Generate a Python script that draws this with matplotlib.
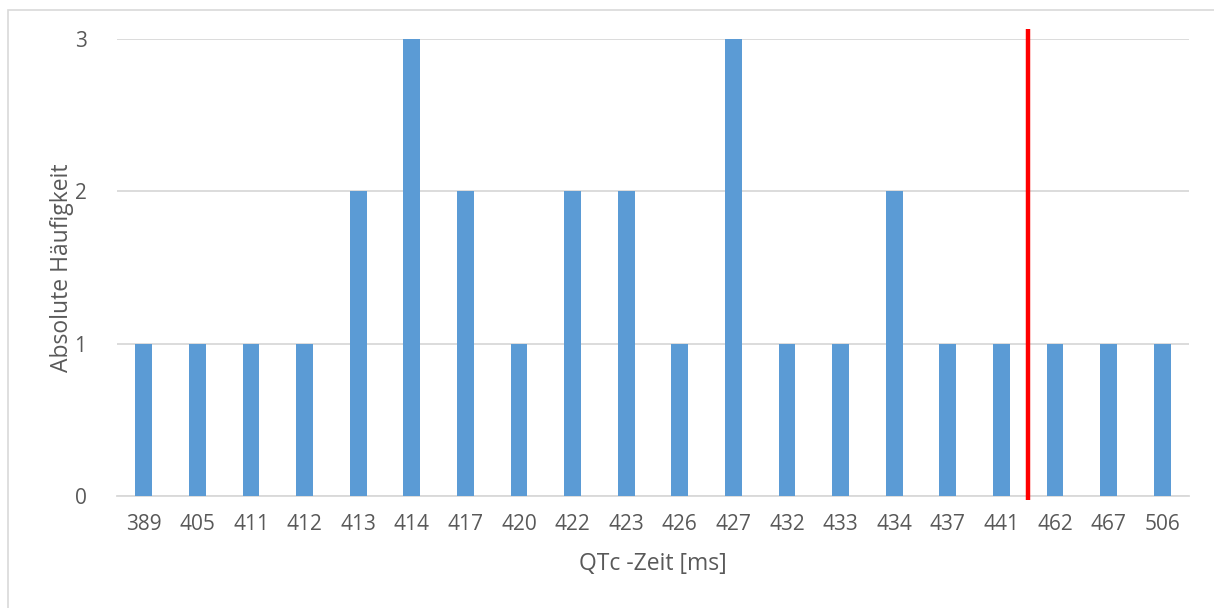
import matplotlib
matplotlib.use("Agg")
import matplotlib.pyplot as plt
from matplotlib.patches import Rectangle

# QTc times (ms) and how often each occurred
qtc_labels = ["389", "405", "411", "412", "413", "414", "417", "420", "422", "423",
              "426", "427", "432", "433", "434", "437", "441", "462", "467", "506"]
counts = [1, 1, 1, 1, 2, 3, 2, 1, 2, 2, 1, 3, 1, 1, 2, 1, 1, 1, 1, 1]
y_ticks = [0, 1, 2, 3]
# cut-off marker drawn between 441 and 462 ms
cutoff_pos = 16.5

text_color = "#595959"
bar_color = "#5B9BD5"
grid_color = "#D9D9D9"

plt.rcParams["font.family"] = ["Open Sans", "DejaVu Sans"]

fig = plt.figure(figsize=(12.14, 6.08), dpi=100)
fig.patches.append(Rectangle((8 / 1214, -0.1), 1.2, 1 - 10 / 608 + 0.1,
                             transform=fig.transFigure, fill=False,
                             edgecolor="#D9D9D9", linewidth=1.2))

ax = fig.add_axes([117 / 1214, 1 - 496 / 608, (1189 - 117) / 1214, (496 - 39) / 608])
x = list(range(len(qtc_labels)))
ax.bar(x, counts, width=0.31, color=bar_color, zorder=3)

ax.set_xlim(-0.5, len(qtc_labels) - 0.5)
ax.set_ylim(0, 3)
ax.set_yticks(y_ticks)
ax.set_xticks(x)
ax.set_xticklabels(qtc_labels)
ax.grid(axis="y", color=grid_color, linewidth=1.3, zorder=0)
for s in ["top", "right", "left"]:
    ax.spines[s].set_visible(False)
ax.spines["bottom"].set_color(grid_color)
ax.spines["bottom"].set_linewidth(1.3)
ax.tick_params(axis="both", length=0, labelsize=15, colors=text_color)
ax.tick_params(axis="y", pad=22)
ax.tick_params(axis="x", pad=13)

ax.set_xlabel("QTc -Zeit [ms]", fontsize=16.5, color=text_color, labelpad=12)
ax.set_ylabel("Absolute Häufigkeit", fontsize=16.5, color=text_color, labelpad=0)

ax.plot([cutoff_pos, cutoff_pos], [-0.026, 3.066], color="#FF0000",
        linewidth=3.2, clip_on=False, zorder=5, solid_capstyle="butt")

fig.savefig("out.png", dpi=100)
